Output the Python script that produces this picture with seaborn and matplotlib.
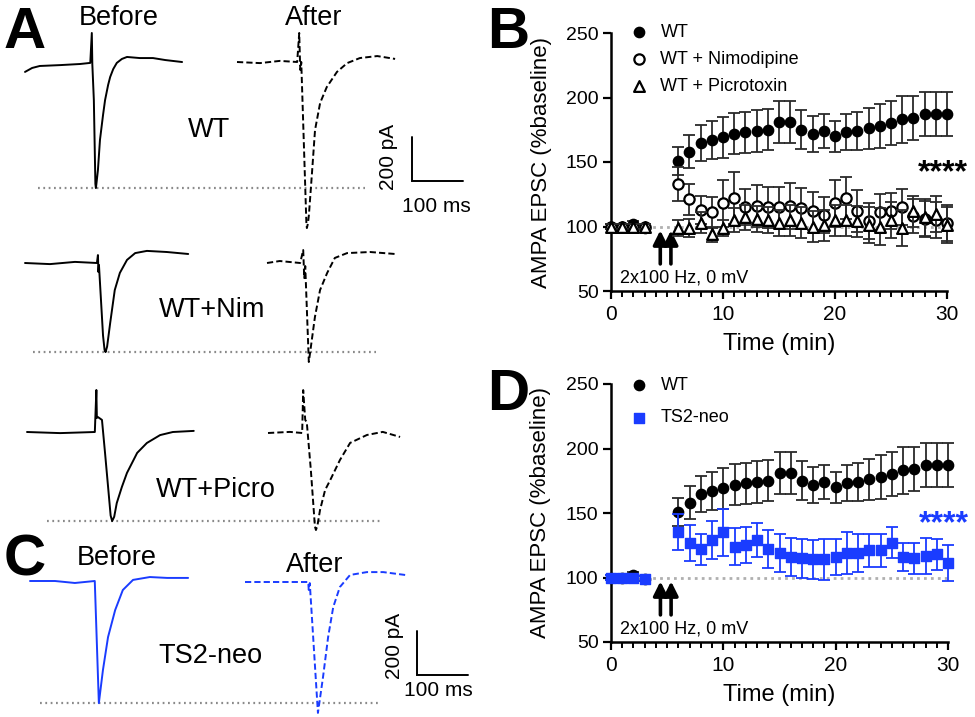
import numpy as np
import pandas as pd
import matplotlib
matplotlib.use("Agg")
import matplotlib.pyplot as plt
import seaborn as sns

# ---------------- data: time course (panels B, D) ----------------
time_base = [0, 1, 2, 3]
time_post = list(range(6, 31))
time_all = time_base + time_post

wt_mean = [100, 100, 102, 99,
           151, 158, 165, 167, 169, 172, 173, 174, 175, 181, 181, 175, 172,
           174, 170, 173, 174, 176, 178, 180, 183, 184, 187, 187, 187]
wt_sem = [2, 2, 2, 2,
          11, 13, 14, 15, 16, 16, 16, 16, 16, 16, 16, 15, 14,
          13, 12, 14, 15, 16, 17, 17, 18, 17, 17, 17, 17]

nim_mean = [100, 100, 100, 100,
            133, 121, 113, 111, 118, 122, 115, 116, 115, 115, 116, 114, 112,
            109, 118, 122, 112, 104, 111, 112, 115, 108, 106, 105, 103]
nim_sem = [2, 2, 2, 2,
           13, 12, 11, 12, 18, 20, 14, 16, 16, 16, 18, 16, 15,
           14, 18, 16, 16, 14, 14, 14, 14, 13, 14, 14, 14]

pic_mean = [100, 100, 100, 100,
            99, 99, 103, 94, 99, 105, 107, 106, 105, 103, 105, 103, 100,
            101, 105, 105, 104, 101, 100, 105, 99, 112, 107, 110, 101]
pic_sem = [2, 2, 2, 2,
           6, 7, 8, 6, 6, 9, 10, 10, 10, 10, 12, 12, 12,
           12, 12, 12, 12, 14, 14, 14, 14, 12, 14, 14, 14]

ts2_mean = [100, 100, 100, 99,
            135, 127, 122, 129, 135, 124, 125, 129, 122, 119, 116, 115, 114,
            114, 116, 119, 119, 121, 121, 127, 116, 115, 117, 118, 111]
ts2_sem = [2, 2, 2, 2,
           14, 14, 12, 15, 18, 14, 14, 13, 15, 15, 15, 15, 15,
           16, 14, 16, 15, 13, 13, 12, 11, 12, 14, 12, 14]

legend_B = ["WT", "WT + Nimodipine", "WT + Picrotoxin"]
legend_D = ["WT", "TS2-neo"]
stim_times = [4.4, 5.35]
stim_text = "2x100 Hz, 0 mV"

# ---------------- data: example traces (ms, pA relative to baseline) ----------------
wt_before_t = [0, 14, 29, 69, 108, 128, 131, 132, 135, 138, 139, 140, 143, 147, 153, 157, 163, 167, 173, 180, 190, 200, 225, 251, 275, 308]
wt_before_i = [-36, -18, -9, -5, 0, 5, 141, 0, -164, -545, -564, -545, -482, -345, -232, -164, -95, -59, -23, 5, 23, 32, 27, 27, 18, 9]

wt_after_t = [0, 45, 84, 118, 122, 124, 126, 136, 137, 139, 141, 147, 153, 163, 176, 196, 216, 241, 275, 310]
wt_after_i = [0, -5, 5, 0, 132, -36, 0, -730, -755, -735, -695, -505, -309, -186, -114, -45, -5, 18, 27, 14]

nim_before_t = [0, 49, 98, 141, 143, 144, 145, 153, 156, 158, 161, 167, 176, 186, 200, 216, 239, 278, 320]
nim_before_i = [0, -5, 5, 0, 36, -41, -9, -330, -395, -405, -380, -273, -123, -45, 14, 45, 55, 50, 41]

nim_after_t = [0, 25, 65, 71, 73, 75, 82, 94, 104, 118, 133, 157, 202, 251]
nim_after_i = [0, 9, 0, 59, -68, -14, -450, -245, -123, -45, 23, 45, 50, 41]

pic_before_t = [0, 65, 133, 136, 137, 139, 147, 153, 159, 164, 167, 171, 176, 186, 196, 216, 235, 261, 286, 327]
pic_before_i = [0, -5, 0, 191, 64, 68, 55, -95, -250, -380, -405, -385, -323, -250, -186, -95, -50, -14, 0, 5]

pic_after_t = [0, 43, 67, 69, 73, 76, 84, 92, 94, 97, 102, 112, 122, 141, 161, 194, 225, 259]
pic_after_i = [0, 5, 0, 195, 59, 50, -168, -425, -441, -420, -350, -259, -214, -123, -45, -9, 5, -18]

ts2_before_t = [0, 49, 88, 127, 135, 143, 153, 167, 182, 202, 235, 269, 310]
ts2_before_i = [0, 0, -9, 0, -555, -405, -255, -132, -41, 5, 18, 14, 14]

ts2_after_t = [0, 59, 124, 125, 127, 143, 153, 163, 173, 186, 206, 239, 271, 314]
ts2_after_i = [0, 0, 0, -36, -5, -595, -432, -250, -114, -23, 32, 45, 45, 32]

scale_pA = 200
scale_ms = 100

# ---------------- style ----------------
sns.set_theme(style="ticks")
plt.rcParams["font.family"] = ["Liberation Sans", "DejaVu Sans"]
plt.rcParams.update({"text.color": "black", "axes.labelcolor": "black",
                     "xtick.color": "black", "ytick.color": "black",
                     "axes.edgecolor": "black", "axes.linewidth": 1.8})

BLUE = "#1a3cff"
W, H = 975, 717
fig = plt.figure(figsize=(W / 100, H / 100), dpi=100)


def fx(px):
    return px / W


def fy(py):
    return 1 - py / H


# ---------------- left panel traces (A, C) ----------------
PX_MS = 0.51   # pixels per ms
PX_PA = 0.22   # pixels per pA
axL = fig.add_axes([0, 0, 480 / W, 1])
axL.set_xlim(0, 480 / PX_MS)
axL.set_ylim(-H / PX_PA, 0)
axL.axis("off")


def pos(xp, yp):
    return xp / PX_MS, -yp / PX_PA


def draw_trace(t, i, xp, yp, color, dashed):
    x0, y0 = pos(xp, yp)
    df = pd.DataFrame({"t": np.array(t, float) + x0, "i": np.array(i, float) + y0})
    ls = (0, (3.2, 1.6)) if dashed else "-"
    sns.lineplot(data=df, x="t", y="i", ax=axL, sort=False, estimator=None,
                 color=color, lw=1.4, linestyle=ls)
    return y0 + min(i)


def dotted(level, xp1, xp2):
    axL.plot([xp1 / PX_MS, xp2 / PX_MS], [level, level], color="#8a8a8a",
             lw=1.6, ls=(0, (0.8, 1.6)), zorder=0)


rows = [
    (wt_before_t, wt_before_i, 25, 64, wt_after_t, wt_after_i, 237, 62, "black", 38, 365),
    (nim_before_t, nim_before_i, 25, 263, nim_after_t, nim_after_i, 267, 263, "black", 33, 376),
    (pic_before_t, pic_before_i, 27, 432, pic_after_t, pic_after_i, 268, 433, "black", 47, 381),
    (ts2_before_t, ts2_before_i, 30, 581, ts2_after_t, ts2_after_i, 245, 582, BLUE, 40, 378),
]
for bt, bi, bx, by, at, ai, ax_, ay, col, d1, d2 in rows:
    lvl = draw_trace(bt, bi, bx, by, col, False)
    draw_trace(at, ai, ax_, ay, col, True)
    dotted(lvl, d1, d2)

# scale bars
for cx, cy in [(412, 181), (417, 675)]:
    x0, y0 = pos(cx, cy)
    axL.plot([x0, x0, x0 + scale_ms], [y0 + scale_pA, y0, y0], color="black", lw=1.4,
             solid_joinstyle="miter")

# texts on left panel
TF = 19.5
fig.text(fx(119), fy(25), "Before", ha="center", va="baseline", fontsize=TF)
fig.text(fx(314), fy(25), "After", ha="center", va="baseline", fontsize=TF)
fig.text(fx(209), fy(137), "WT", ha="center", va="baseline", fontsize=TF)
fig.text(fx(212), fy(317), "WT+Nim", ha="center", va="baseline", fontsize=TF)
fig.text(fx(216), fy(497), "WT+Picro", ha="center", va="baseline", fontsize=TF)
fig.text(fx(117), fy(565), "Before", ha="center", va="baseline", fontsize=TF)
fig.text(fx(315), fy(572), "After", ha="center", va="baseline", fontsize=TF)
fig.text(fx(210), fy(663), "TS2-neo", ha="center", va="baseline", fontsize=TF)
fig.text(fx(388), fy(157), "200 pA", ha="center", va="center", rotation=90, fontsize=15)
fig.text(fx(436), fy(206), "100 ms", ha="center", va="center", fontsize=15)
fig.text(fx(394), fy(646), "200 pA", ha="center", va="center", rotation=90, fontsize=15)
fig.text(fx(438), fy(690), "100 ms", ha="center", va="center", fontsize=15)

for letter, lx, ly in [("A", 4, 48), ("B", 487, 48), ("C", 4, 575), ("D", 487, 410)]:
    fig.text(fx(lx), fy(ly), letter, ha="left", va="baseline", fontsize=42, fontweight="bold")

# ---------------- right panels ----------------
axB = fig.add_axes([fx(611), fy(291), (947 - 611) / W, (291 - 33) / H])
axD = fig.add_axes([fx(611), fy(642), (948 - 611) / W, (642 - 384) / H])


def style_axis(ax):
    ax.set_xlim(0, 30)
    ax.set_ylim(50, 250)
    sns.despine(ax=ax)
    ax.spines["left"].set_linewidth(1.8)
    ax.spines["bottom"].set_linewidth(1.8)
    ax.set_xticks([0, 10, 20, 30])
    ax.set_xticks(range(0, 31), minor=True)
    ax.set_yticks([50, 100, 150, 200, 250])
    ax.tick_params(axis="both", which="major", direction="out", length=6, width=1.6,
                   color="black", labelcolor="black")
    ax.tick_params(axis="x", which="minor", direction="out", length=4, width=1.4, color="black")
    ax.tick_params(axis="x", labelsize=15, pad=4)
    ax.tick_params(axis="y", labelsize=14, pad=3)
    ax.set_xlabel("Time (min)", fontsize=17)
    ax.set_ylabel("AMPA EPSC (%baseline)", fontsize=16)
    ax.xaxis.set_label_coords(0.5, -0.205)
    ax.xaxis.label.set_va("center")
    ax.yaxis.set_label_coords((541 - 611) / 336, 0.5)
    ax.yaxis.label.set_va("center")
    ax.axhline(100, color="#b0b0b0", lw=2, ls=(0, (1, 1.5)), zorder=0)
    for st in stim_times:
        ax.annotate("", xy=(st, 97), xytext=(st, 71),
                    arrowprops=dict(arrowstyle="-|>,head_width=0.35,head_length=0.7",
                                    lw=2.6, color="black", shrinkA=0, shrinkB=0))
    ax.text(0.8, 60, stim_text, ha="left", va="center", fontsize=13)
    ax.grid(False)


def series(ax, mean, sem, ecolor, marker, face, edge, s, label, lw=1.0, z=3):
    ax.errorbar(time_all, mean, yerr=sem, fmt="none", ecolor=ecolor, elinewidth=1.3,
                capsize=4.2, capthick=1.3, clip_on=False, zorder=z - 1)
    sns.scatterplot(x=time_all, y=mean, ax=ax, marker=marker, s=s, color=face,
                    edgecolor=edge, linewidth=lw, zorder=z, clip_on=False, label=label)


style_axis(axB)
series(axB, wt_mean, wt_sem, "#2a2a2a", "o", "black", "black", 55, legend_B[0])
series(axB, nim_mean, nim_sem, "#2a2a2a", "o", "white", "black", 55, legend_B[1], lw=1.6, z=4)
series(axB, pic_mean, pic_sem, "#2a2a2a", "^", "white", "black", 60, legend_B[2], lw=1.6, z=5)
axB.text(29.6, 141, "****", ha="center", va="center", fontsize=23, fontweight="bold",
         color="black")
axB.legend(loc="upper left", bbox_to_anchor=(fx(628), fy(24)), bbox_transform=fig.transFigure,
           frameon=False, fontsize=13, handletextpad=0.6, labelspacing=0.55,
           handlelength=1.2, borderpad=0, borderaxespad=0)

style_axis(axD)
series(axD, wt_mean, wt_sem, "#2a2a2a", "o", "black", "black", 55, legend_D[0])
series(axD, ts2_mean, ts2_sem, BLUE, "s", BLUE, BLUE, 50, legend_D[1], z=4)
axD.text(29.6, 141, "****", ha="center", va="center", fontsize=23, fontweight="bold",
         color=BLUE)
axD.legend(loc="upper left", bbox_to_anchor=(fx(628), fy(377)), bbox_transform=fig.transFigure,
           frameon=False, fontsize=13, handletextpad=0.6, labelspacing=0.85,
           handlelength=1.2, borderpad=0, borderaxespad=0)

fig.savefig("out.png", dpi=100)
